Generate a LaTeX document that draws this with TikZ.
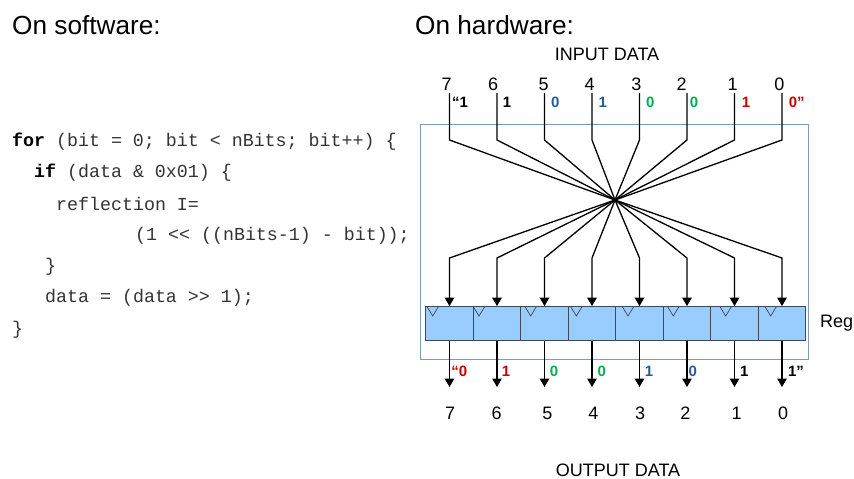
\documentclass[tikz,border=0pt]{standalone}
\usepackage{fontspec}
\setmainfont{Liberation Sans}
\setmonofont{Liberation Mono}
\usetikzlibrary{arrows.meta}
\definecolor{bit-black}{HTML}{000000}
\definecolor{bit-blue}{HTML}{2A5A96}
\definecolor{bit-green}{HTML}{00B050}
\definecolor{bit-red}{HTML}{CC0000}
\tikzset{
    title-text/.style = {anchor=west, inner sep=0pt, font=\fontsize{26.2}{30}\selectfont},
    caption-text/.style = {inner sep=0pt, font=\fontsize{18}{20}\selectfont},
    code-line/.style = {anchor=west, inner sep=0pt, text=black!80, font=\ttfamily\fontsize{18.3}{20}\selectfont},
    bit-label/.style = {inner sep=0pt, font=\bfseries\fontsize{15}{17}\selectfont},
    frame-box/.style = {draw={rgb,255:red,127;green,153;blue,186}, line width=1pt},
    reg-cell/.style = {draw={rgb,255:red,64;green,72;blue,84}, fill={rgb,255:red,153;green,204;blue,255}, line width=0.9pt, rectangle, minimum width=47.5pt, minimum height=33.5pt, inner sep=0pt},
    clock-mark/.style = {draw={rgb,255:red,64;green,72;blue,84}, line width=0.7pt},
    wire/.style = {draw=black, line width=1.3pt},
    wire-arrow/.style = {wire, -{Triangle[width=9.5pt,length=8.5pt]}},
}

\begin{document}
\begin{tikzpicture}[x=1pt, y=-1pt]
\useasboundingbox (0,0) rectangle (854,479);
\node [title-text] (software) at (12,25) {On software:};
\node [title-text] (hardware) at (415,25) {On hardware:};
\node [caption-text] (input) at (607,54) {INPUT DATA};
\node [caption-text] (output) at (618,470) {OUTPUT DATA};
\node [caption-text, anchor=west] (register) at (820,323) {Reg};

\node [code-line, text=black] (code-for) at (12,142) {\textbf{for} \textcolor{black!80}{(bit = 0; bit < nBits; bit++) \{}};
\node [code-line, text=black] (code-if) at (34,173) {\textbf{if} \textcolor{black!80}{(data \& 0x01) \{}};
\node [code-line] (code-set) at (56,204) {reflection I=};
\node [code-line] (code-shift) at (135,236) {(1 << ((nBits-1) - bit));};
\node [code-line] (code-close) at (45,267) {\}};
\node [code-line] (code-data) at (45,298) {data = (data >> 1);};
\node [code-line] (code-end) at (12,330) {\}};

\node [frame-box, draw, rectangle, inner sep=0pt, minimum width=388pt, minimum height=234.5pt] (frame) at (614.75,242) {};
\coordinate (hub) at (615,200);

\foreach \n/\x/\tx in {7/449.5/432.7, 6/497/479, 5/544.5/530.7, 4/592/576.3, 3/639.5/628, 2/687/673.3, 1/734.5/725.7, 0/782/770.7} {
    \coordinate (top-\n) at (\x,93);
    \coordinate (upper-\n) at (\x,140);
    \coordinate (lower-\n) at (\x,258);
    \coordinate (tip-\n) at (\x,387);
    \node [reg-cell] (cell-\n) at (\x,323.3) {};
    \draw [clock-mark] (\tx-5.5,307) -- (\tx,316) -- (\tx+5.5,307);
    \draw [wire] (top-\n) -- (upper-\n) -- (hub);
    \draw [wire-arrow] (hub) -- (lower-\n) -- (cell-\n.north);
    \draw [wire-arrow] (cell-\n.south) -- (tip-\n);
}

\foreach \n/\x in {7/446.7, 6/493, 5/543.7, 4/589.7, 3/636.3, 2/681.7, 1/732.7, 0/779.3}
    \node [caption-text] (in-\n) at (\x,84) {\n};
\foreach \n/\x in {7/450, 6/496.7, 5/547.3, 4/593.3, 3/640, 2/685.3, 1/736.7, 0/783}
    \node [caption-text] (out-\n) at (\x,413) {\n};

\foreach \n/\x/\c/\t in {7/460/bit-black/“1, 6/507/bit-black/1, 5/555.3/bit-blue/0, 4/602.7/bit-blue/1, 3/650.3/bit-green/0, 2/694/bit-green/0, 1/746/bit-red/1, 0/796.7/bit-red/0”}
    \node [bit-label, text=\c] (bit-in-\n) at (\x,102.7) {\t};
\foreach \n/\x/\c/\t in {7/459.3/bit-red/“0, 6/506/bit-red/1, 5/554/bit-green/0, 4/601.7/bit-green/0, 3/649/bit-blue/1, 2/692.7/bit-blue/0, 1/744.3/bit-black/1, 0/796/bit-black/1”}
    \node [bit-label, text=\c] (bit-out-\n) at (\x,371.7) {\t};
\end{tikzpicture}
\end{document}
